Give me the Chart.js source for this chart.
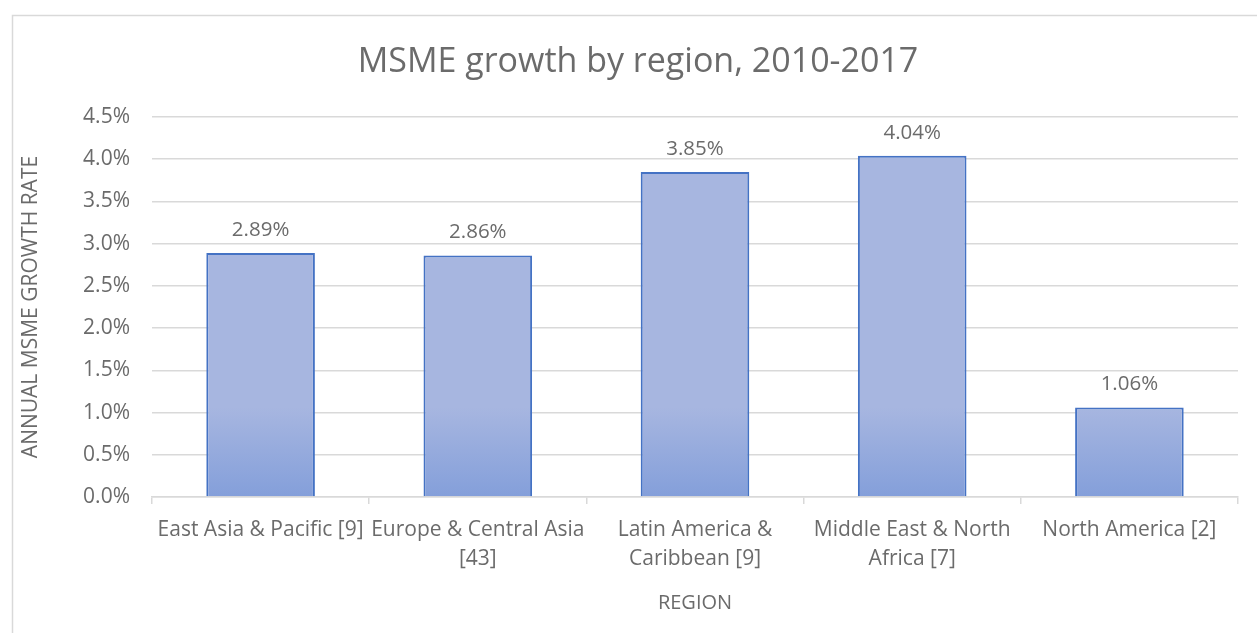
<!DOCTYPE html>
<html>
<head>
<meta charset="utf-8">
<script src="https://cdn.jsdelivr.net/npm/chart.js@4/dist/chart.umd.min.js"></script>
<style>
  html, body { margin: 0; padding: 0; background: #fff; }
  #wrap { position: relative; width: 1257px; height: 633px; }
</style>
</head>
<body>
<div id="wrap"><canvas id="growthChart" width="1257" height="633"></canvas></div>
<script>
const chartTitle = "MSME growth by region, 2010-2017";
const regions = [
  "East Asia & Pacific [9]",
  ["Europe & Central Asia", "[43]"],
  ["Latin America &", "Caribbean [9]"],
  ["Middle East & North", "Africa [7]"],
  "North America [2]"
];
const growthRates = [2.89, 2.86, 3.85, 4.04, 1.06];
const yTicks = [0, 0.5, 1, 1.5, 2, 2.5, 3, 3.5, 4, 4.5];

const textGray = "#6b6b6b";
const gridGray = "#d9d9d9";
const fontFamily = "'Open Sans', sans-serif";

// outer chart frame, like the office chart border; title centred on the frame
const framePlugin = {
  id: "frame",
  beforeDraw(chart) {
    const ctx = chart.ctx;
    ctx.save();
    ctx.fillStyle = "#fff";
    ctx.fillRect(0, 0, chart.width, chart.height);
    ctx.strokeStyle = "#d9d9d9";
    ctx.lineWidth = 1.5;
    ctx.strokeRect(12.5, 15.5, 1400, 800);
    ctx.fillStyle = textGray;
    ctx.font = "34px " + fontFamily;
    ctx.textAlign = "center";
    ctx.textBaseline = "middle";
    ctx.fillText(chartTitle, 638, 62);
    ctx.restore();
  },
};

// each bar gets its own vertical gradient, light at top
const gradientPlugin = {
  id: "barGradient",
  beforeDatasetDraw(chart, args) {
    const ctx = chart.ctx;
    args.meta.data.forEach((bar) => {
      const g = ctx.createLinearGradient(0, bar.y, 0, bar.base);
      g.addColorStop(0, "#a7b6e0");
      g.addColorStop(1, "#849fda");
      bar.options.backgroundColor = g;
    });
  },
};

const valueLabels = {
  id: "valueLabels",
  afterDatasetsDraw(chart) {
    const ctx = chart.ctx;
    const meta = chart.getDatasetMeta(0);
    ctx.save();
    ctx.fillStyle = textGray;
    ctx.font = "20.5px " + fontFamily;
    ctx.textAlign = "center";
    ctx.textBaseline = "middle";
    meta.data.forEach((bar, i) => {
      ctx.fillText(growthRates[i].toFixed(2) + "%", bar.x, bar.y - 23);
    });
    ctx.restore();
  },
};

new Chart(document.getElementById("growthChart"), {
  type: "bar",
  data: {
    labels: regions,
    datasets: [
      {
        data: growthRates,
        backgroundColor: "#95aadc",
        borderColor: "#4472c4",
        borderWidth: 2,
        borderSkipped: "bottom",
        categoryPercentage: 1,
        barPercentage: 0.5,
      },
    ],
  },
  options: {
    responsive: false,
    animation: false,
    events: [],
    layout: { padding: { left: 18, right: 19, top: 117, bottom: 14 } },
    plugins: {
      legend: { display: false },
      tooltip: { enabled: false },
      title: { display: false },
    },
    scales: {
      x: {
        afterFit: (scale) => { scale.height = 122; },
        grid: {
          offset: true,
          drawOnChartArea: false,
          color: gridGray,
          lineWidth: 1.5,
          tickLength: 7,
        },
        border: { color: gridGray, width: 1.5 },
        ticks: {
          color: textGray,
          font: { family: fontFamily, size: 21, lineHeight: 1.38 },
          maxRotation: 0,
          autoSkip: false,
          padding: 12,
        },
        title: {
          display: true,
          text: "REGION",
          color: textGray,
          font: { family: fontFamily, size: 20 },
        },
      },
      y: {
        min: 0,
        max: 4.5,
        afterFit: (scale) => { scale.width = 134; },
        afterBuildTicks: (scale) => {
          scale.ticks = yTicks.map((v) => ({ value: v }));
        },
        grid: { color: gridGray, lineWidth: 1.5, drawTicks: false },
        border: { display: false },
        ticks: {
          color: textGray,
          font: { family: fontFamily, size: 21 },
          padding: 22,
          callback: (v) => v.toFixed(1) + "%",
        },
        title: {
          display: true,
          text: "ANNUAL MSME GROWTH RATE",
          color: textGray,
          font: { family: fontFamily, size: 21 },
          padding: { top: 0, bottom: 0 },
        },
      },
    },
  },
  plugins: [framePlugin, gradientPlugin, valueLabels],
});
</script>
</body>
</html>
